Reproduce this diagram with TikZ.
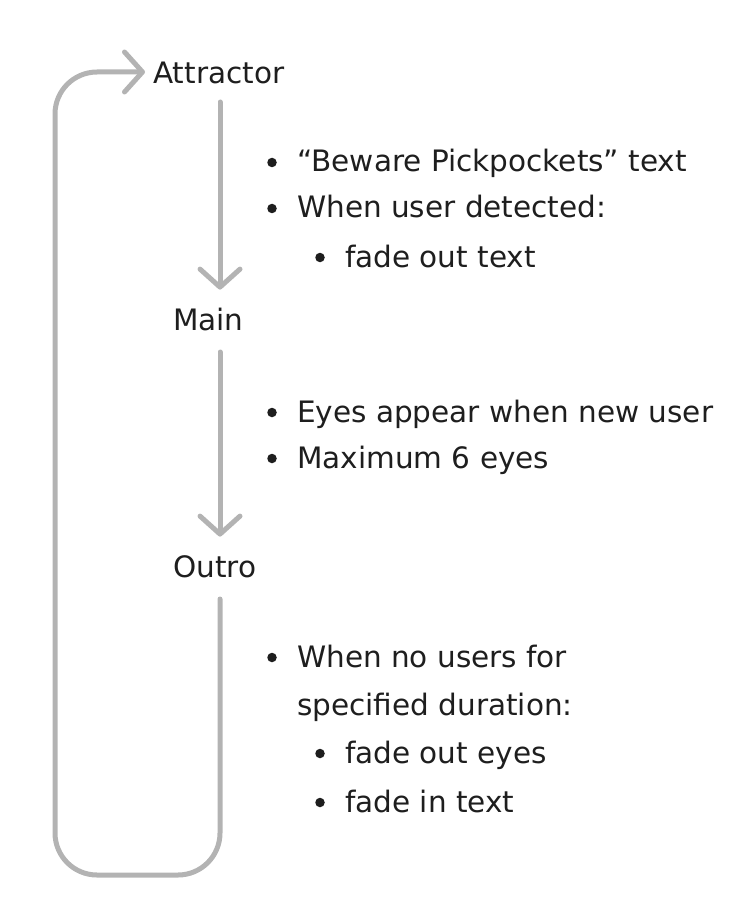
\documentclass[tikz,border=0pt]{standalone}
\usepackage{fontspec}
\setmainfont{DejaVu Sans}
\usetikzlibrary{arrows.meta}
\definecolor{linegray}{HTML}{B3B3B3}
\definecolor{ink}{HTML}{1E1E1E}
\begin{document}
\begin{tikzpicture}[x=1pt,y=-1pt,
  lbl/.style={inner sep=0pt, text height=21pt, text depth=0pt, text=ink, font=\fontsize{29.5}{35}\selectfont},
  txt/.style={inner sep=0pt, anchor=base west, text=ink, font=\fontsize{29.5}{35}\selectfont},
  bul/.style={circle, fill=ink, inner sep=0pt, minimum size=9.5pt},
  conn/.style={draw=linegray, line width=5pt, line cap=round, line join=round,
    -{Straight Barb[length=18pt, width=40pt, round]}}]
\useasboundingbox (0,0) rectangle (752,917);
\coordinate (col) at (220,0);
% states
\node[lbl, anchor=south west] (A) at (153,84) {Attractor};
\node[lbl, anchor=south west] (M) at (173,331) {Main};
\node[lbl, anchor=south west] (O) at (173,578) {Outro};
% connectors
\draw[conn, shorten <=18pt, shorten >=20pt] (A.south -| col) -- (M.north -| col);
\draw[conn, shorten <=21pt, shorten >=20pt] (M.south -| col) -- (O.north -| col);
\draw[conn, rounded corners=42pt, shorten <=21pt, shorten >=8pt]
  (O.south -| col) -- (220,875) -- (55,875) -- (55,72) -- (A.west |- 0,72);
% notes: Attractor
\node[bul] (b1) at (272,162.5) {};
\node[txt] (t1) at (297,172) {“Beware Pickpockets” text};
\node[bul] (b2) at (272,208.5) {};
\node[txt] (t2) at (297,218) {When user detected:};
\node[bul] (b3) at (320,257.5) {};
\node[txt] (t3) at (345,267) {fade out text};
% notes: Main
\node[bul] (b4) at (272,412.5) {};
\node[txt] (t4) at (297,422) {Eyes appear when new user};
\node[bul] (b5) at (272,458.5) {};
\node[txt] (t5) at (297,468) {Maximum 6 eyes};
% notes: Outro
\node[bul] (b6) at (272,657.5) {};
\node[txt] (t6) at (297,667) {When no users for};
\node[txt] (t7) at (297,715) {specified duration:};
\node[bul] (b8) at (320,753.5) {};
\node[txt] (t8) at (345,763) {fade out eyes};
\node[bul] (b9) at (320,802.5) {};
\node[txt] (t9) at (345,812) {fade in text};
\end{tikzpicture}
\end{document}
